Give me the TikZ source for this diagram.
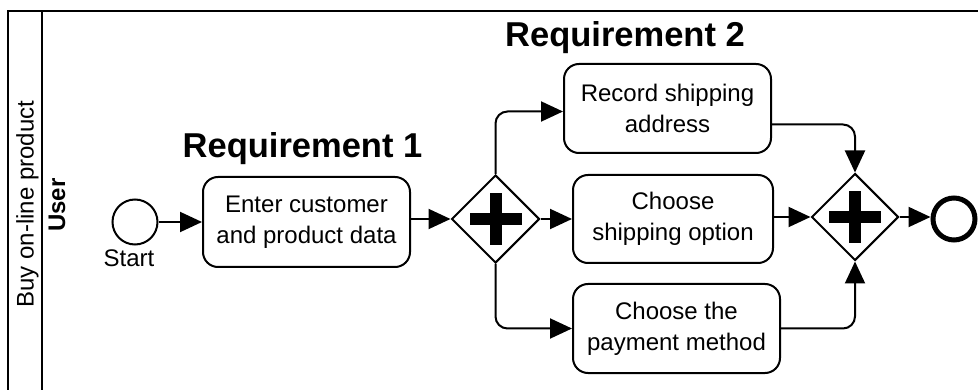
\documentclass[tikz,border=0pt]{standalone}
\usepackage{fontspec}
\setmainfont{Liberation Sans}
\usetikzlibrary{shapes.geometric,arrows.meta,calc}

\tikzset{
  lbl/.style={font=\fontsize{24}{31}\selectfont, inner sep=0},
  heading/.style={font=\fontsize{34.5}{40}\selectfont\bfseries, inner sep=0, anchor=base},
  task/.style={draw, rounded corners=15, line width=2, inner sep=0,
    align=center, font=\fontsize{24}{31}\selectfont},
  gateway/.style={draw, diamond, aspect=1, minimum size=88, inner sep=0,
    line width=2,
    path picture={
      \fill ($(path picture bounding box.center)+(-26,-6)$) rectangle ++(52,12);
      \fill ($(path picture bounding box.center)+(-6,-26)$) rectangle ++(12,52);
    }},
  flow/.style={line width=2, rounded corners=12,
    -{Triangle[length=22pt,width=20pt]}},
  pool/.style={line width=2.6}
}

\begin{document}
\begin{tikzpicture}[x=1pt,y=-1pt]
  \useasboundingbox (0,0) rectangle (978,390);

  % pool and lane frame
  \coordinate (poolTL) at (8,11);
  \coordinate (poolTR) at (980,11);
  \coordinate (poolBL) at (8,392);
  \coordinate (laneT) at (42,11);
  \coordinate (laneB) at (42,392);
  \draw[pool] (poolTR) -- (poolTL) -- (poolBL);
  \draw[pool] (laneT) -- (laneB);
  \node[lbl, rotate=90] (poolname) at (27.5,204) {Buy on-line product};
  \node[lbl, rotate=90, font=\fontsize{24}{31}\selectfont\bfseries] (lanename) at (57,205) {User};

  % headings
  \node[heading] (req1) at (302.5,158) {Requirement 1};
  \node[heading] (req2) at (625,47) {Requirement 2};

  % events
  \node[draw, circle, line width=2, minimum size=45, inner sep=0] (start) at (135,222) {};
  \node[lbl] (startlbl) at (129,258) {Start};
  \node[draw, circle, line width=5, minimum size=42, inner sep=0] (stop) at (954,219) {};

  % tasks
  \node[task, minimum width=207, minimum height=90] (t1) at (306.5,222) {Enter customer\\and product data};
  \node[task, minimum width=207, minimum height=89] (top) at (667.5,108.5) {Record shipping\\address};
  \node[task, minimum width=200, minimum height=88] (mid) at (673,219) {Choose\\shipping option};
  \node[task, minimum width=207, minimum height=89] (bot) at (676.5,328.5) {Choose the\\payment method};

  % parallel gateways
  \node[gateway] (g1) at (495.5,219) {};
  \node[gateway, minimum size=87] (g2) at (855,217) {};

  % sequence flows
  \draw[flow] (start.east) -- (t1.west);
  \draw[flow] (t1.east |- g1.west) -- (g1.west);
  \draw[flow] (g1.north) |- ($(top.west)+(0,3)$);
  \draw[flow] (g1.east) -- (mid.west |- g1.east);
  \draw[flow] (g1.south) |- (bot.west);
  \draw[flow] ($(top.east)+(0,16)$) -| (g2.north);
  \draw[flow] (mid.east |- g2.west) -- (g2.west);
  \draw[flow] (bot.east) -| (g2.south);
  \draw[flow] (g2.east) -- (stop.west |- g2.east);
\end{tikzpicture}
\end{document}
